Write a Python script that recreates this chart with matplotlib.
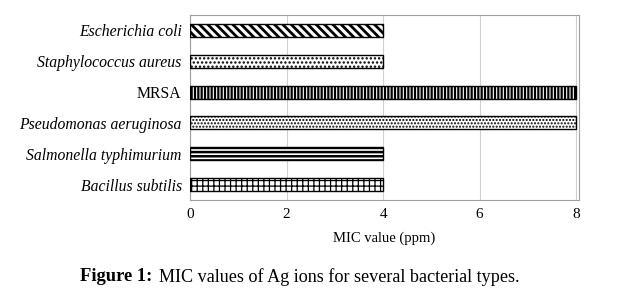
import matplotlib.pyplot as plt

plt.rcParams['font.family'] = ['Liberation Serif', 'DejaVu Serif']
plt.rcParams['hatch.linewidth'] = 1.2

# bacteria, bottom to top
bacteria = ["Bacillus subtilis", "Salmonella typhimurium", "Pseudomonas aeruginosa",
            "MRSA", "Staphylococcus aureus", "Escherichia coli"]
mic_values = [4, 4, 8, 8, 4, 4]
hatches = ['+++', '----', '.....', '|||||', '....', '\\\\\\\\']
hatch_lw = [0.9, 1.8, 1.0, 1.6, 1.1, 2.0]
italic = [True, True, True, False, True, True]

fig = plt.figure(figsize=(6.42, 3.05), dpi=100)
ax = fig.add_axes([0.296, 0.344, 0.606, 0.607])

bars = ax.barh(range(len(bacteria)), mic_values, height=0.42,
               color='white', edgecolor='black', linewidth=1.0, zorder=3)
for bar, h, lw in zip(bars, hatches, hatch_lw):
    bar.set_hatch(h)
    if hasattr(bar, 'set_hatch_linewidth'):
        bar.set_hatch_linewidth(lw)

ax.set_xlim(0, 8.06)
ax.set_ylim(-0.5, len(bacteria) - 0.5)
ax.set_xticks([0, 2, 4, 6, 8])
ax.set_yticks(range(len(bacteria)))
ax.set_yticklabels(bacteria, fontsize=11.3)
for lab, it in zip(ax.get_yticklabels(), italic):
    lab.set_fontstyle('italic' if it else 'normal')
ax.tick_params(axis='both', length=0)
ax.tick_params(axis='x', labelsize=11, pad=6)
ax.tick_params(axis='y', pad=6)
ax.xaxis.grid(True, color='#d0d0d0', linewidth=0.8, zorder=0)
for s in ax.spines.values():
    s.set_color('#a0a0a0')
    s.set_linewidth(0.8)

ax.set_xlabel("MIC value (ppm)", fontsize=10.5, labelpad=7)

fig.text(0.125, 0.092, "Figure 1:", fontsize=13.3, fontweight='bold', ha='left', va='center')
fig.text(0.247, 0.092, "MIC values of Ag ions for several bacterial types.",
         fontsize=13.1, ha='left', va='center')

fig.savefig("out.png", dpi=100)
